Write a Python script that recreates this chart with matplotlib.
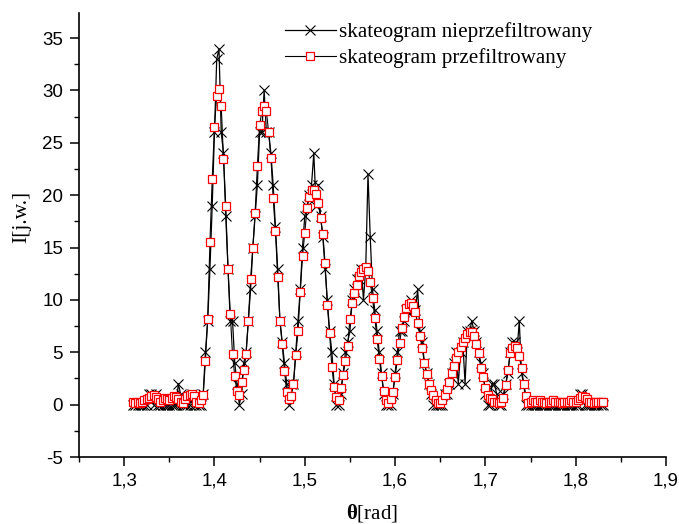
import numpy as np
import matplotlib
matplotlib.use("Agg")
import matplotlib.pyplot as plt
from matplotlib.ticker import MultipleLocator

plt.rcParams['axes.unicode_minus'] = False
plt.rcParams['mathtext.fontset'] = 'custom'
plt.rcParams['mathtext.rm'] = 'Liberation Serif'
plt.rcParams['mathtext.bf'] = 'Liberation Serif:bold'

# ---------------- data ----------------
theta_start = 1.31
theta_step = 0.0025

filtered = [
    # 1.3100 - 1.3875 baseline
    0.3, 0.2, 0.3, 0.2, 0.3, 0.4, 0.5, 0.6, 0.8, 0.9, 0.7, 0.5, 0.3, 0.4, 0.6, 0.5,
    0.4, 0.6, 0.8, 0.7, 0.5, 0.3, 0.2, 0.5, 0.8, 0.9, 1.0, 0.8, 0.3, 0.2, 0.4, 0.9,
    # 1.3900 - peaks
    4.2, 8.2, 15.5, 21.5, 26.5, 29.5, 30.1, 28.5, 23.5, 19.0, 13.0, 8.7, 4.8, 2.7, 1.3, 0.9,
    2.2, 3.3, 4.8, 8.0, 12.0, 15.0, 18.3, 22.8, 26.7, 28.0, 28.5, 28.0, 26.0, 23.6, 19.7, 16.6,
    12.2, 8.0, 5.8, 3.2, 1.2, 0.5, 0.8, 2.0, 4.7, 7.0, 10.8, 14.2, 16.4, 18.8, 19.8, 20.5,
    20.5, 20.1, 19.3, 17.8, 16.3, 13.5, 9.5, 6.8, 3.6, 1.7, 0.7, 0.4, 1.6, 2.8, 4.2, 5.6,
    8.2, 9.7, 10.7, 11.4, 12.3, 12.7, 13.0, 13.1, 12.8, 11.7, 10.2, 8.3, 6.3, 4.4, 2.7, 1.3,
    0.4, 0.2, 0.5, 1.2, 2.6, 4.3, 5.9, 7.3, 8.4, 9.2, 9.6, 9.7, 9.4, 8.8, 7.8, 6.6,
    5.4, 4.0, 2.9, 2.0, 1.4, 0.9, 0.4, 0.2, 0.2, 0.4, 0.9, 1.5, 2.2, 3.0, 3.7, 4.5,
    5.0, 5.5, 6.0, 6.4, 6.7, 6.9, 6.9, 6.6, 5.8, 4.9, 3.5, 2.6, 1.6, 0.9, 0.6, 0.5,
    0.3, 0.3, 0.2, 0.3, 0.6, 1.9, 3.3, 4.9, 5.4, 5.6, 5.4, 4.6, 3.5, 2.0, 0.8, 0.2,
    # 1.7500 - 1.8300 tail
    0.3, 0.4, 0.3, 0.3, 0.4, 0.3, 0.3, 0.2, 0.3, 0.3, 0.4, 0.3, 0.3, 0.3, 0.2, 0.3,
    0.3, 0.3, 0.4, 0.3, 0.3, 0.4, 0.6, 0.8, 0.7, 0.5, 0.3, 0.3, 0.2, 0.3, 0.3, 0.3, 0.3,
]

unfiltered = [
    # 1.3100 - 1.3875 baseline
    0, 0, 0, 0, 0, 0, 0, 1, 1, 0, 1, 0, 0, 0, 0, 0,
    0, 0, 0, 0, 2, 1, 0, 0, 0, 0, 1, 0, 0, 0, 0, 1,
    # 1.3900 - peaks
    5, 8, 13, 19, 26, 33, 34, 26, 24, 18, 13, 8, 8, 4, 2, 0,
    1, 4, 5, 8, 11, 15, 18, 21, 26, 26, 30, 26, 26, 24, 21, 17,
    13, 8, 6, 4, 2, 0, 2, 2, 5, 8, 11, 15, 18, 19, 20, 21,
    24, 19, 21, 18, 16, 13, 10, 7, 5, 2, 0, 0, 1, 3, 5, 6,
    7, 10, 11, 12, 12, 13, 10, 13, 22, 16, 11, 9, 7, 5, 3, 1,
    0, 0, 0, 1, 3, 5, 7, 7, 8, 9, 9, 10, 9, 9, 11, 7,
    6, 4, 3, 2, 1, 0, 0, 0, 0, 0, 1, 1, 2, 3, 4, 5,
    2, 5, 6, 2, 7, 7, 8, 7, 6, 5, 4, 3, 1, 0, 0, 2,
    2, 1, 0, 0, 1, 2, 3, 5, 6, 6, 5, 8, 3, 2, 0, 0,
    # 1.7500 - 1.8300 tail
    0, 0, 0, 0, 0, 0, 0, 0, 0, 0, 0, 0, 0, 0, 0, 0,
    0, 0, 0, 0, 0, 0, 1, 1, 0, 0, 0, 0, 0, 0, 0, 0, 0,
]

theta = theta_start + theta_step * np.arange(len(filtered))
theta_u = theta_start + theta_step * np.arange(len(unfiltered))

label_unf = "skateogram nieprzefiltrowany"
label_f = "skateogram przefiltrowany"

xticks = [1.3, 1.4, 1.5, 1.6, 1.7, 1.8, 1.9]
xtick_labels = ["1,3", "1,4", "1,5", "1,6", "1,7", "1,8", "1,9"]
yticks = [-5, 0, 5, 10, 15, 20, 25, 30, 35]

# ---------------- figure ----------------
W, H = 679, 524
fig = plt.figure(figsize=(W / 100, H / 100), dpi=100)
ax = fig.add_axes([79 / W, 1 - 457 / H, (666 - 79) / W, (457 - 13) / H])

ax.plot(theta_u, unfiltered, color='black', lw=0.9, marker='x', markersize=7,
        markeredgewidth=0.8, markeredgecolor='black', label=label_unf, zorder=2)
ax.plot(theta, filtered, color='black', lw=0.8, marker='s', markersize=6.3,
        markeredgewidth=0.9, markeredgecolor='red', markerfacecolor='white',
        label=label_f, zorder=3)

ax.set_xlim(1.25, 1.9)
ax.set_ylim(-5, 37.4)

for s in ['top', 'right']:
    ax.spines[s].set_visible(False)
for s in ['left', 'bottom']:
    ax.spines[s].set_linewidth(1.2)

ax.set_xticks(xticks)
ax.set_xticklabels(xtick_labels)
ax.set_yticks(yticks)
ax.xaxis.set_minor_locator(MultipleLocator(0.05))
ax.yaxis.set_minor_locator(MultipleLocator(2.5))
ax.tick_params(which='major', direction='out', length=6.5, width=1.1,
               labelsize=13.5, pad=5)
ax.tick_params(which='minor', direction='out', length=3.6, width=1.0)
for lab in ax.get_xticklabels() + ax.get_yticklabels():
    lab.set_fontfamily('Liberation Sans')

fig.text(372 / W, 1 - 513 / H, r'$\mathbf{θ}$[rad]', ha='center', va='center',
         fontsize=15, family='Liberation Serif')
fig.text(22 / W, 1 - 217 / H, 'I[j.w.]', ha='center', va='center', rotation=90,
         fontsize=15.5, family='Liberation Serif')

leg = ax.legend(loc='upper left', bbox_to_anchor=(285 / W, 1 - 22 / H),
                bbox_transform=fig.transFigure, frameon=False,
                prop={'family': 'Liberation Serif', 'size': 15.2},
                handlelength=2.4, handletextpad=0.15, labelspacing=0.3,
                borderpad=0, borderaxespad=0)

fig.savefig('out.png', dpi=100)
